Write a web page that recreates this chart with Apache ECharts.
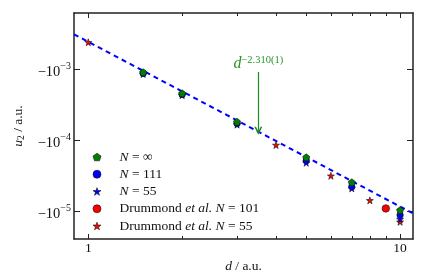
<!DOCTYPE html>
<html>
<head>
<meta charset="utf-8">
<script src="https://cdn.jsdelivr.net/npm/echarts@6.0.0/dist/echarts.min.js"></script>
<style>
html,body{margin:0;padding:0;background:#fff;}
#chart{width:436px;height:273px;}
</style>
</head>
<body>
<div id="chart"></div>
<script>
// ---- data (u2 magnitudes, axis labels carry the minus sign) ----
const dCalc = [1.5, 2, 3, 5, 7, 10];
const uInf = [9.0e-4, 4.56e-4, 1.82e-4, 5.78e-5, 2.58e-5, 1.05e-5];
const u111 = [8.7e-4, 4.4e-4, 1.72e-4, 5.18e-5, 2.23e-5, 8.95e-6];
const u55 = [8.5e-4, 4.3e-4, 1.66e-4, 4.85e-5, 2.12e-5, 7.87e-6];
const dDrum101 = [9];
const uDrum101 = [1.11e-5];
const dDrum55 = [1, 4, 6, 8, 10];
const uDrum55 = [2.37e-3, 8.59e-5, 3.18e-5, 1.44e-5, 7.21e-6];
const fitD = [0.9, 11];
const fitU = [3.07e-3, 9.46e-6];
const arrowD = 3.51;
const arrowU = [9.08e-4, 1.36e-4];
const fitExponent = '−2.310(1)';
const seriesNames = ['N = ∞', 'N = 111', 'N = 55', 'Drummond et al. N = 101', 'Drummond et al. N = 55'];
const xMajor = [1, 10];
const xMinor = [2, 3, 4, 5, 6, 7, 8, 9];
const yMajor = [1e-5, 1e-4, 1e-3];

const pair = (xs, ys) => xs.map((x, i) => [x, ys[i]]);
const FONT = 'Liberation Serif';
const FS = 13.5;
const TXT = '#111';
const pentagon = 'path://M50,0 L97.6,34.5 L79.4,90.5 L20.6,90.5 L2.4,34.5 Z';
const star = 'path://M50,0 L61.2,34.5 L97.6,34.5 L68.2,55.9 L79.4,90.5 L50,69.1 L20.6,90.5 L31.8,55.9 L2.4,34.5 L38.8,34.5 Z';
const chevron = 'path://M0,10 L5,0 L10,10 L7.9,10 L5,4.2 L2.1,10 Z';
const XMIN = 0.9, XMAX = 11, YMIN = 4.14e-6, YMAX = 6.1e-3;

const axisLine = {show: true, lineStyle: {color: '#222', width: 1.5}};
function xAx(pos, ticks, len, labels, line) {
  return {
    type: 'log', logBase: 10, min: XMIN, max: XMAX, position: pos,
    axisLine: line ? axisLine : {show: false},
    splitLine: {show: false},
    axisTick: {show: true, inside: true, length: len, customValues: ticks, lineStyle: {color: '#222', width: 1}},
    axisLabel: labels ? {show: true, customValues: ticks, margin: 2, fontFamily: FONT, fontSize: FS, color: TXT} : {show: false}
  };
}
function yAx(pos, labels) {
  return {
    type: 'log', logBase: 10, min: YMIN, max: YMAX, position: pos,
    axisLine: axisLine,
    splitLine: {show: false},
    axisTick: {show: true, inside: true, length: 6, customValues: yMajor, lineStyle: {color: '#222', width: 1}},
    axisLabel: labels ? {
      show: true, customValues: yMajor, margin: 3,
      formatter: v => '{b|−10}{sup|−' + Math.round(-Math.log10(v)) + '}',
      rich: {
        b: {fontFamily: FONT, fontSize: 14.5, color: TXT, padding: [6, 0, 0, 0]},
        sup: {fontFamily: FONT, fontSize: 10, color: TXT, padding: [0, 0, 6, 0]}
      }
    } : {show: false}
  };
}

const xAxes = [xAx('bottom', xMajor, 5, true, true), xAx('bottom', xMinor, 3, false, false),
               xAx('top', xMajor, 5, false, true), xAx('top', xMinor, 3, false, false)];
xAxes[0].name = '{i|d} / a.u.';
xAxes[0].nameLocation = 'middle';
xAxes[0].nameGap = 15;
xAxes[0].nameTextStyle = {fontFamily: FONT, fontSize: FS, color: TXT, rich: {i: {fontFamily: FONT, fontSize: FS, fontStyle: 'italic', color: TXT}}};
const yAxes = [yAx('left', true), yAx('right', false)];
yAxes[0].name = '{i|u}{sub|2} / a.u.';
yAxes[0].nameLocation = 'middle';
yAxes[0].nameGap = 41;
yAxes[0].nameTextStyle = {fontFamily: FONT, fontSize: FS, color: TXT, rich: {
  i: {fontFamily: FONT, fontSize: FS, fontStyle: 'italic', color: TXT},
  sub: {fontFamily: FONT, fontSize: 9.5, color: TXT, padding: [6, 0, 0, 0]}
}};

function scatter(name, data, symbol, size, color, z) {
  return {
    name: name, type: 'scatter', xAxisIndex: 0, yAxisIndex: 0,
    data: data, symbol: symbol, symbolSize: size, z: z,
    itemStyle: {color: color, borderColor: '#111', borderWidth: 0.6, opacity: 1},
    emphasis: {disabled: true}
  };
}

const option = {
  animation: false,
  backgroundColor: '#fff',
  grid: {left: 74, top: 13, right: 23, bottom: 34, containLabel: false, outerBoundsMode: 'none'},
  xAxis: xAxes,
  yAxis: yAxes,
  legend: {
    data: seriesNames,
    orient: 'vertical', left: 92.7, top: 150, padding: 0,
    itemWidth: 8, itemHeight: 8, itemGap: 3.25,
    itemStyle: {borderColor: '#111', borderWidth: 0.6},
    formatter: n => '{sp|}' + n.replace('et al.', '{i|et al.}').replace(/N/g, '{i|N}'),
    textStyle: {fontFamily: FONT, fontSize: FS, color: TXT, lineHeight: 14,
      rich: {
        sp: {width: 13.6, lineHeight: 14},
        i: {fontFamily: FONT, fontSize: FS, fontStyle: 'italic', color: TXT, lineHeight: 14}
      }},
    selectedMode: false
  },
  series: [
    {
      name: 'fit', type: 'line', xAxisIndex: 0, yAxisIndex: 0,
      data: pair(fitD, fitU), showSymbol: false, symbol: 'none', z: 1,
      lineStyle: {color: '#0000ff', width: 2, type: [5, 4]},
      emphasis: {disabled: true},
      markLine: {
        silent: true, symbol: ['none', chevron], symbolSize: [8, 8],
        lineStyle: {color: '#1e8c1e', width: 1.2, type: 'solid'},
        label: {
          show: true, position: 'start', distance: 0,
          formatter: '{i|d}{sup|' + fitExponent + '}',
          rich: {
            i: {fontFamily: FONT, fontSize: 16, fontStyle: 'italic', color: '#2a952a', padding: [3, 0, 0, 0]},
            sup: {fontFamily: FONT, fontSize: 10.5, color: '#2a952a', padding: [0, 0, 4, 0]}
          }
        },
        data: [[{coord: [arrowD, arrowU[0]]}, {coord: [arrowD, arrowU[1]]}]]
      }
    },
    scatter(seriesNames[0], pair(dCalc, uInf), pentagon, 7, '#008000', 10),
    scatter(seriesNames[1], pair(dCalc, u111), 'circle', 6.5, '#0000ff', 9),
    scatter(seriesNames[2], pair(dCalc, u55), star, 7, '#0000ff', 8),
    scatter(seriesNames[3], pair(dDrum101, uDrum101), 'circle', 7.5, '#ff0000', 7),
    scatter(seriesNames[4], pair(dDrum55, uDrum55), star, 7, '#ff0000', 6)
  ]
};
const chart = echarts.init(document.getElementById('chart'), null, {renderer: 'canvas'});
chart.setOption(option);
</script>
</body>
</html>
